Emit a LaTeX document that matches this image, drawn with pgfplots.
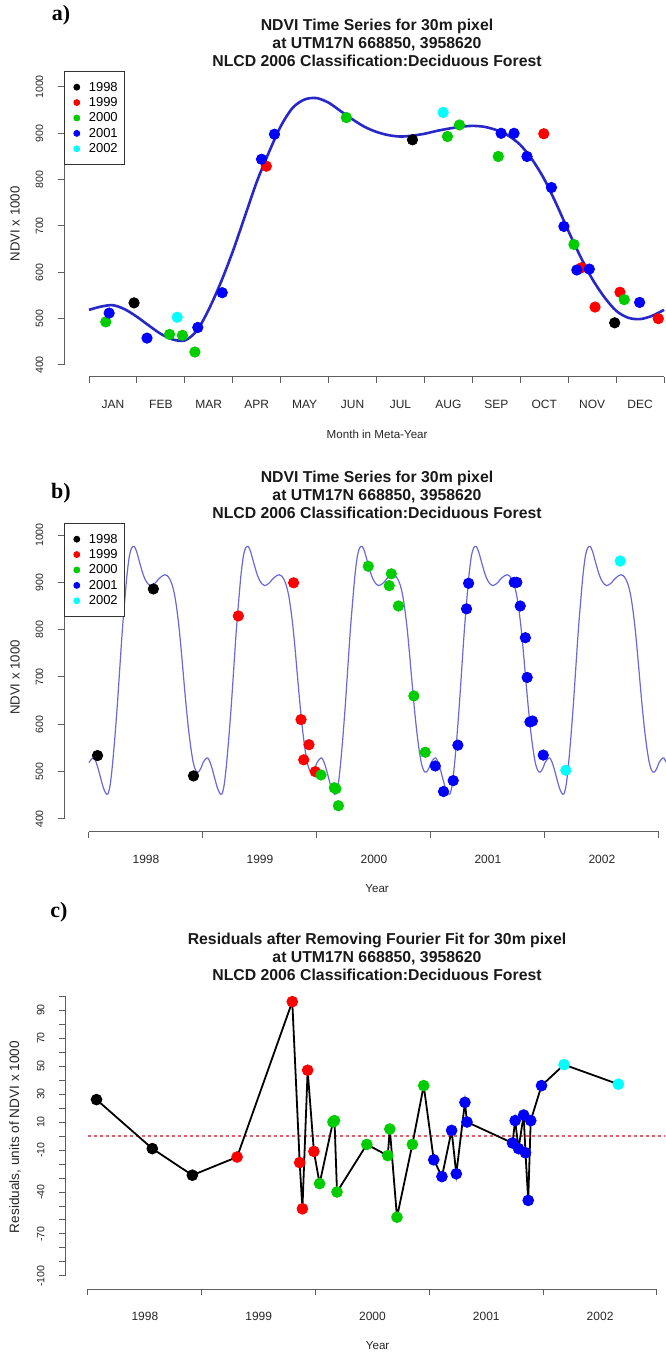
\documentclass[border=0pt]{standalone}
\usepackage{fontspec}
\setmainfont{Liberation Sans}
\newfontfamily\labfont{Liberation Serif}
\usepackage{pgfplots}
\usepackage{pgfplotstable}
\pgfplotsset{compat=1.18}

\definecolor{c98}{RGB}{0,0,0}
\definecolor{c99}{RGB}{255,0,0}
\definecolor{c00}{RGB}{0,205,0}
\definecolor{c01}{RGB}{0,0,255}
\definecolor{c02}{RGB}{0,255,255}
\definecolor{fitblue}{RGB}{40,40,200}
\definecolor{fitlight}{RGB}{105,105,215}
\definecolor{axgray}{RGB}{95,95,95}
\definecolor{zeroline}{RGB}{225,95,105}

% fitted seasonal curve over one meta-year (month, NDVI x 1000)
\pgfplotstableread{
m v
0.00 519
0.25 526
0.50 529
0.75 520
1.00 504
1.25 485
1.50 467
1.75 455
2.00 453
2.25 474
2.50 520
2.75 578
3.00 645
3.25 720
3.50 795
3.75 858
4.00 915
4.25 955
4.50 973
4.75 976
5.00 966
5.25 948
5.50 930
5.75 914
6.00 903
6.25 896
6.50 893
6.75 895
7.00 899
7.25 905
7.50 910
7.75 914
8.00 916
8.25 914
8.50 907
8.75 895
9.00 875
9.25 843
9.50 801
9.75 748
10.00 690
10.25 635
10.50 586
10.75 547
11.00 517
11.25 502
11.50 499
11.75 506
12.00 519
}\fit

% observations: month in year, decimal year, NDVI x 1000, residual, year class
\pgfplotstableread{
m t v r c
0.94 1998.075 534 26 0
6.75 1998.565 886 -9 0
10.97 1998.917 491 -28 0
3.70 1999.310 829 -15 1
9.49 1999.795 899 96 1
10.28 1999.860 610 -19 1
10.56 1999.884 525 -52 1
11.08 1999.930 557 47 1
11.88 1999.985 500 -11 1
0.35 2000.035 493 -34 2
1.68 2000.152 466 10 2
1.95 2000.166 464 11 2
2.21 2000.188 428 -40 2
5.37 2000.450 934 -6 2
7.48 2000.634 893 -14 2
7.73 2000.652 918 5 2
8.54 2000.715 850 -58 2
10.12 2000.850 660 -6 2
11.17 2000.950 541 36 2
0.42 2001.038 512 -17 3
1.21 2001.110 458 -29 3
2.27 2001.195 481 4 3
2.78 2001.236 556 -27 3
3.60 2001.312 844 24 3
3.87 2001.330 898 10 3
8.60 2001.730 900 -5 3
8.87 2001.753 900 11 3
9.14 2001.783 850 -9 3
9.65 2001.828 783 15 3
9.91 2001.844 699 -12 3
10.18 2001.868 605 -46 3
10.44 2001.890 607 11 3
11.49 2001.985 535 36 3
1.84 2002.183 503 51 4
7.39 2002.660 945 37 4
}\obs

\pgfplotsset{
  rstyle/.style={
    scale only axis, clip=false,
    axis x line*=bottom, axis y line*=left,
    axis line style={draw=none},
    tick align=outside, major tick length=3pt,
    tick style={axgray, line width=0.5pt},
    minor tick num=0,
    x tick label as interval,
    xticklabel style={font=\fontsize{6}{7}\selectfont, text=black!85},
    xticklabel shift=5.2pt,
    yticklabel style={font=\fontsize{5.3}{6}\selectfont, rotate=90, anchor=south, text=black!85},
    yticklabel shift=3.8pt,
    every axis x label/.style={at={([yshift=-28.5pt]rel axis cs:0.521,0)}, anchor=center, font=\fontsize{5.8}{7}\selectfont, text=black!85},
    every axis y label/.style={at={([xshift=-24.5pt]rel axis cs:0,0.5)}, rotate=90, anchor=center, font=\fontsize{6.6}{7}\selectfont, text=black!85},
  },
  pt/.style={only marks, mark=*, mark size=2.6pt, color=#1,
    legend image code/.code={\path (-3.5pt,0pt); \draw[##1, mark size=1.5pt] plot coordinates {(0pt,0pt)};}},
  yrlegend/.style={legend cell align=left,
    legend style={at={(rel axis cs:0,1)}, anchor=north west, draw=black!80, fill=white,
      font=\fontsize{6.5}{7}\selectfont, inner xsep=2.5pt, inner ysep=4.3pt, row sep=0.5pt,
      /tikz/every odd column/.append style={column sep=3.9pt},
      nodes={inner sep=0.6pt, text height=5pt, text depth=1pt}}},
}
\tikzset{
  ttl/.style={font=\fontsize{7.9}{9}\selectfont\bfseries, align=center, text=black!90},
  tag/.style={font=\labfont\fontsize{11}{12}\selectfont\bfseries},
}

\begin{document}
\begin{tikzpicture}
\useasboundingbox (0,0) rectangle (332.5pt,676pt);

% ---------- a) ----------
\begin{axis}[rstyle, yrlegend,
  at={(32pt,487.5pt)}, anchor=south west,
  width=300.5pt, height=153pt,
  xmin=-0.522, xmax=12.02, ymin=374.1, ymax=1034.5,
  xtick={0,...,12},
  xticklabels={JAN,FEB,MAR,APR,MAY,JUN,JUL,AUG,SEP,OCT,NOV,DEC},
  ytick={400,500,...,1000}, yticklabels={400,500,600,700,800,900,1000},
  xlabel={Month in Meta-Year}, ylabel={NDVI x 1000}]
\draw[axgray, line width=0.5pt] (axis cs:0,374.1) -- (axis cs:12,374.1);
\draw[axgray, line width=0.5pt] (axis cs:-0.522,400) -- (axis cs:-0.522,1000);
\addplot[fitblue, line width=1.3pt, smooth, forget plot] table[x=m, y=v] {\fit};
\addplot[pt=c98, restrict expr to domain={\thisrow{c}}{0:0}] table[x=m, y=v] {\obs};
\addplot[pt=c99, restrict expr to domain={\thisrow{c}}{1:1}] table[x=m, y=v] {\obs};
\addplot[pt=c00, restrict expr to domain={\thisrow{c}}{2:2}] table[x=m, y=v] {\obs};
\addplot[pt=c01, restrict expr to domain={\thisrow{c}}{3:3}] table[x=m, y=v] {\obs};
\addplot[pt=c02, restrict expr to domain={\thisrow{c}}{4:4}] table[x=m, y=v] {\obs};
\legend{1998,1999,2000,2001,2002}
\end{axis}

% ---------- b) ----------
\begin{axis}[rstyle, yrlegend,
  at={(32pt,260pt)}, anchor=south west,
  width=300.5pt, height=154.5pt,
  xmin=1997.781, xmax=2003.053, ymin=372.5, ymax=1025.4,
  xtick={1998,...,2003}, xticklabels={1998,1999,2000,2001,2002},
  ytick={400,500,...,1000}, yticklabels={400,500,600,700,800,900,1000},
  xlabel={Year}, ylabel={NDVI x 1000}]
\draw[axgray, line width=0.5pt] (axis cs:1998,372.5) -- (axis cs:2003,372.5);
\draw[axgray, line width=0.5pt] (axis cs:1997.781,400) -- (axis cs:1997.781,1000);
\addplot[fitlight, line width=0.6pt, smooth, forget plot] table[x expr=\thisrow{m}/12+1998, y=v] {\fit};
\addplot[fitlight, line width=0.6pt, smooth, forget plot] table[x expr=\thisrow{m}/12+1999, y=v] {\fit};
\addplot[fitlight, line width=0.6pt, smooth, forget plot] table[x expr=\thisrow{m}/12+2000, y=v] {\fit};
\addplot[fitlight, line width=0.6pt, smooth, forget plot] table[x expr=\thisrow{m}/12+2001, y=v] {\fit};
\addplot[fitlight, line width=0.6pt, smooth, forget plot] table[x expr=\thisrow{m}/12+2002, y=v] {\fit};
\addplot[fitlight, line width=0.6pt, smooth, forget plot, restrict x to domain=2003:2003.06] table[x expr=\thisrow{m}/12+2003, y=v] {\fit};
\addplot[pt=c98, restrict expr to domain={\thisrow{c}}{0:0}] table[x=t, y=v] {\obs};
\addplot[pt=c99, restrict expr to domain={\thisrow{c}}{1:1}] table[x=t, y=v] {\obs};
\addplot[pt=c00, restrict expr to domain={\thisrow{c}}{2:2}] table[x=t, y=v] {\obs};
\addplot[pt=c01, restrict expr to domain={\thisrow{c}}{3:3}] table[x=t, y=v] {\obs};
\addplot[pt=c02, restrict expr to domain={\thisrow{c}}{4:4}] table[x=t, y=v] {\obs};
\legend{1998,1999,2000,2001,2002}
\end{axis}

% ---------- c) ----------
\begin{axis}[rstyle,
  at={(32.5pt,31.5pt)}, anchor=south west,
  width=300pt, height=152pt,
  xmin=1997.798, xmax=2003.07, ymin=-109.3, ymax=107.9,
  xtick={1998,...,2003}, xticklabels={1998,1999,2000,2001,2002},
  ytick={-100,-90,...,100},
  yticklabels={-100,,,-70,,,-40,,,-10,,10,,30,,50,,70,,90,},
  xlabel={Year}, ylabel={Residuals, units of NDVI x 1000},
  every axis y label/.append style={at={([xshift=-25pt]rel axis cs:0,0.5)}, font=\fontsize{6.8}{7}\selectfont}]
\draw[axgray, line width=0.5pt] (axis cs:1998,-109.3) -- (axis cs:2003,-109.3);
\draw[axgray, line width=0.5pt] (axis cs:1997.798,-100) -- (axis cs:1997.798,100);
\addplot[zeroline, line width=0.6pt, dash pattern=on 1.6pt off 1.4pt] coordinates {(1998,0) (2003.07,0)};
\addplot[black, line width=0.9pt] table[x=t, y=r] {\obs};
\addplot[pt=c98, mark size=2.7pt, restrict expr to domain={\thisrow{c}}{0:0}] table[x=t, y=r] {\obs};
\addplot[pt=c99, mark size=2.7pt, restrict expr to domain={\thisrow{c}}{1:1}] table[x=t, y=r] {\obs};
\addplot[pt=c00, mark size=2.7pt, restrict expr to domain={\thisrow{c}}{2:2}] table[x=t, y=r] {\obs};
\addplot[pt=c01, mark size=2.7pt, restrict expr to domain={\thisrow{c}}{3:3}] table[x=t, y=r] {\obs};
\addplot[pt=c02, mark size=2.7pt, restrict expr to domain={\thisrow{c}}{4:4}] table[x=t, y=r] {\obs};
\end{axis}

% titles and panel tags
\node[ttl] at (188.5pt,654.75pt) {NDVI Time Series for 30m pixel\\at UTM17N 668850, 3958620\\NLCD 2006 Classification:Deciduous Forest};
\node[ttl] at (188.5pt,428.5pt) {NDVI Time Series for 30m pixel\\at UTM17N 668850, 3958620\\NLCD 2006 Classification:Deciduous Forest};
\node[ttl] at (188.5pt,197.5pt) {Residuals after Removing Fourier Fit for 30m pixel\\at UTM17N 668850, 3958620\\NLCD 2006 Classification:Deciduous Forest};
\node[tag] at (30.5pt,668.5pt) {a)};
\node[tag] at (30.5pt,429.5pt) {b)};
\node[tag] at (29.5pt,220pt) {c)};
\end{tikzpicture}
\end{document}
